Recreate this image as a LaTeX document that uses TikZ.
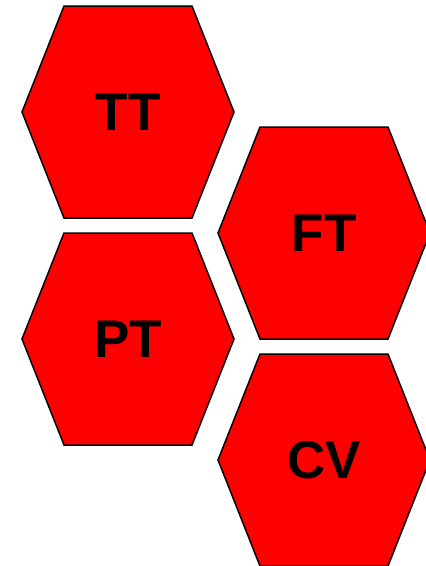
\documentclass[tikz,border=0pt]{standalone}
\usepackage{fontspec}
\setmainfont{Liberation Sans}
\usetikzlibrary{positioning}
\begin{document}
\begin{tikzpicture}[x=1pt, y=-1pt,
  hexcell/.style={draw=black, fill=red, line width=1.5pt, line join=miter},
  hexlabel/.style={font=\fontsize{53}{60}\selectfont\bfseries, text=black, inner sep=0pt},
]
\useasboundingbox (0,0) rectangle (426,566);
% hexagon cells: name / centre x / centre y / label
\foreach \name/\cx/\cy/\lbl in {tt/128/112/TT, ft/324/233/FT, pt/128/339/PT, cv/324/460/CV}{
  \draw[hexcell] (\cx-64,\cy-106) -- (\cx+64,\cy-106) -- (\cx+106,\cy)
    -- (\cx+64,\cy+106) -- (\cx-64,\cy+106) -- (\cx-106,\cy) -- cycle;
  \node[hexlabel] (\name) at (\cx,\cy) {\lbl};
}
\end{tikzpicture}
\end{document}
